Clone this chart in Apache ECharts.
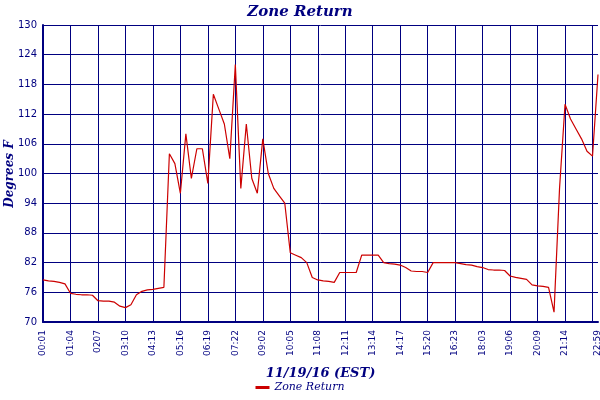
<!DOCTYPE html>
<html><head><meta charset="utf-8">
<script src="https://cdn.jsdelivr.net/npm/echarts@6/dist/echarts.min.js"></script>
<style>html,body{margin:0;padding:0;background:#fff}#c{width:600px;height:400px}</style>
</head><body><div id="c"></div>
<script>
const tickLabels = ['00:01','01:04','0207','03:10','04:13','05:16','06:19','07:22','09:02','10:05','11:08','12:11','13:14','14:17','15:20','16:23','18:03','19:06','20:09','21:14','22:18','22:59'];
const zoneReturn = [78.5,78.3,78.2,78,77.7,75.8,75.6,75.5,75.5,75.4,
74.3,74.2,74.2,74,73.2,72.9,73.5,75.5,76.2,76.5,
76.6,76.8,77,104,102,96,108,99,105,105,
98,116,113,110,103,122,97,110,99,96,
107,100,97,95.5,94,84,83.5,83,82,79,
78.5,78.3,78.2,78,80,80,80,80,83.5,83.5,
83.5,83.5,82,81.8,81.7,81.5,81,80.3,80.2,80.2,
80,82,82,82,82,82,81.8,81.6,81.5,81.2,
81,80.6,80.5,80.5,80.4,79.3,79,78.8,78.6,77.5,
77.3,77.2,77,72,97,114,111,109,107,104.5,
103.5,120];
const categories = zoneReturn.map((v,i)=> i===zoneReturn.length-1 ? tickLabels[21] : (i%5===0 ? tickLabels[i/5] : ''));
const navy = '#000080';
const chart = echarts.init(document.getElementById('c'));
chart.setOption({
  backgroundColor:'#fff',
  animation:false,
  title:{text:'Zone Return',left:'center',top:0,textStyle:{color:navy,fontFamily:'DejaVu Serif',fontStyle:'italic',fontWeight:'bold',fontSize:15}},
  legend:{bottom:2,left:'center',itemWidth:14,itemHeight:3,icon:'rect',data:['Zone Return'],textStyle:{color:navy,fontFamily:'DejaVu Serif',fontStyle:'italic',fontSize:11}},
  grid:{left:43,right:2,top:25,bottom:78,outerBoundsMode:'none',containLabel:false},
  graphic:[{type:'text',x:4,y:174,rotation:Math.PI/2,style:{text:'Degrees F',fill:navy,font:'italic bold 12px "DejaVu Serif"',textAlign:'center',textVerticalAlign:'top'}}],
  xAxis:{type:'category',data:categories,boundaryGap:false,
    name:'11/19/16 (EST)',nameLocation:'middle',nameGap:45,
    nameTextStyle:{color:navy,fontFamily:'DejaVu Serif',fontStyle:'italic',fontWeight:'bold',fontSize:13},
    axisLine:{lineStyle:{color:navy,width:2}},axisTick:{show:false},
    axisLabel:{rotate:90,color:navy,fontSize:9,fontFamily:'DejaVu Sans',showMaxLabel:true,hideOverlap:false,interval:(i)=>i%5===0||i===zoneReturn.length-1},
    splitLine:{show:true,interval:(i)=>i%5===0,lineStyle:{color:navy,width:1}}},
  yAxis:{type:'value',min:70,max:130,interval:6,
    axisLine:{show:true,lineStyle:{color:navy,width:2}},axisTick:{show:false},
    axisLabel:{color:navy,fontSize:10,fontFamily:'DejaVu Sans',margin:6},
    splitLine:{lineStyle:{color:navy,width:1}}},
  series:[{name:'Zone Return',type:'line',data:zoneReturn,symbol:'none',
    lineStyle:{color:'#cc0000',width:1.2},itemStyle:{color:'#cc0000'}}]
});
</script></body></html>
